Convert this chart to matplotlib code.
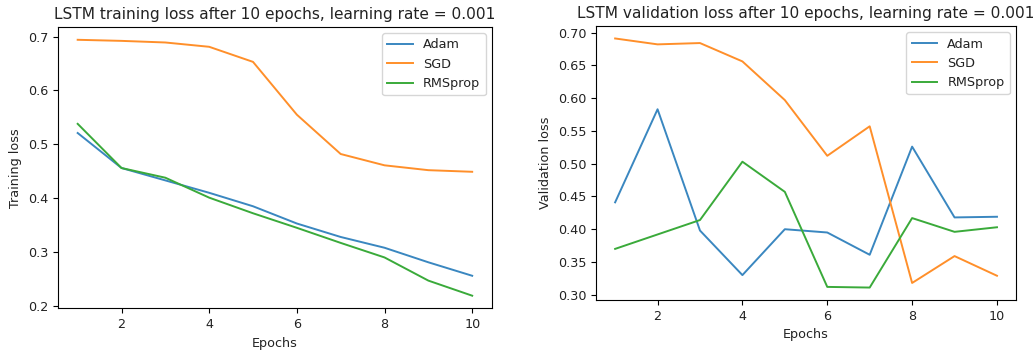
import matplotlib
matplotlib.use("Agg")
import matplotlib.pyplot as plt

epochs = [1, 2, 3, 4, 5, 6, 7, 8, 9, 10]
optimizers = ["Adam", "SGD", "RMSprop"]

train_adam = [0.521, 0.456, 0.433, 0.410, 0.385, 0.353, 0.328, 0.308, 0.281, 0.256]
train_sgd = [0.694, 0.692, 0.689, 0.681, 0.653, 0.555, 0.482, 0.461, 0.452, 0.449]
train_rms = [0.538, 0.456, 0.438, 0.401, 0.372, 0.345, 0.317, 0.290, 0.247, 0.219]

val_adam = [0.441, 0.583, 0.398, 0.330, 0.400, 0.395, 0.361, 0.526, 0.418, 0.419]
val_sgd = [0.691, 0.682, 0.684, 0.656, 0.597, 0.512, 0.557, 0.318, 0.359, 0.329]
val_rms = [0.370, 0.392, 0.414, 0.503, 0.457, 0.312, 0.311, 0.417, 0.396, 0.403]

colors = ["#3a87c0", "#ff8f2a", "#3aaa3a"]
fs = 9.2
lw = 1.4
plt.rcParams["text.color"] = "#222222"
plt.rcParams["axes.labelcolor"] = "#222222"
plt.rcParams["xtick.labelcolor"] = "#222222"
plt.rcParams["ytick.labelcolor"] = "#222222"

fig = plt.figure(figsize=(10.33, 3.52), dpi=100)
ax1 = fig.add_axes([0.0561, 0.1236, 0.4201, 0.7997])
ax2 = fig.add_axes([0.577, 0.1477, 0.4066, 0.7784])

for ax, series, title, ylab in [
    (ax1, [train_adam, train_sgd, train_rms], "LSTM training loss after 10 epochs, learning rate = 0.001", "Training loss"),
    (ax2, [val_adam, val_sgd, val_rms], "LSTM validation loss after 10 epochs, learning rate = 0.001", "Validation loss"),
]:
    for name, vals, c in zip(optimizers, series, colors):
        ax.plot(epochs, vals, label=name, linewidth=lw, color=c)
    ax.set_title(title, fontsize=11.1)
    ax.set_xlabel("Epochs", fontsize=fs)
    ax.set_ylabel(ylab, fontsize=fs)
    ax.tick_params(labelsize=fs)
    ax.legend(fontsize=fs, loc="upper right")

ax2.yaxis.set_major_formatter(matplotlib.ticker.FormatStrFormatter("%.2f"))

fig.savefig("out.png", dpi=100)
